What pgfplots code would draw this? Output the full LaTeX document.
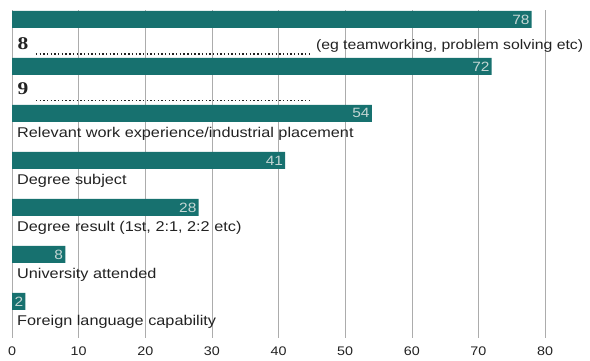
\documentclass[border=0pt]{standalone}
\usepackage{pgfplots}
\pgfplotsset{compat=1.18}
\usepackage{fontspec}
\setmainfont{Liberation Sans}[FakeStretch=1.15]
\newfontfamily\serifb{Liberation Serif}[FakeStretch=1.2]
\definecolor{barc}{HTML}{17716F}
\definecolor{valc}{HTML}{C4D6D4}
\definecolor{txtc}{HTML}{222222}
\begin{document}
\begin{tikzpicture}[x=1bp,y=1bp]
\useasboundingbox (0,0) rectangle (590,-360);
\begin{axis}[
 at={(12bp,-10bp)}, anchor=north west,
 scale only axis, width=533bp, height=328bp,
 xmin=0, xmax=80, ymin=-0.2, ymax=6.78, y dir=reverse,
 xtick={0,10,...,80}, ytick=\empty,
 xmajorgrids, grid style={gray!65, line width=0.5pt},
 axis line style={draw=none}, major tick length=0pt,
 tick label style={font=\fontsize{12.5}{12.5}\selectfont, text=txtc},
 /pgf/number format/assume math mode=true,
 xticklabel style={yshift=-5bp},
 xbar, bar width=17bp,
 nodes near coords,
 every node near coord/.append style={anchor=east, text=valc, font=\fontsize{13.5}{13.5}\selectfont, inner sep=2bp},
 clip=false,
]
\addplot[fill=barc, draw=none] coordinates {(78,0) (72,1) (54,2) (41,3) (28,4) (8,5) (2,6)};
\begin{scope}[every node/.style={anchor=base west, font=\fontsize{14.2}{14.2}\selectfont, text=txtc, inner sep=0pt}]
\node[xshift=5bp] at (axis cs:0,2.51) {Relevant work experience/industrial placement};
\node[xshift=5bp] at (axis cs:0,3.51) {Degree subject};
\node[xshift=5bp] at (axis cs:0,4.51) {Degree result (1st, 2:1, 2:2 etc)};
\node[xshift=5bp] at (axis cs:0,5.51) {University attended};
\node[xshift=5bp] at (axis cs:0,6.51) {Foreign language capability};
\node[font=\fontsize{13.8}{13.8}\selectfont] at (axis cs:45.6,0.65) {(eg teamworking, problem solving etc)};
\node[font=\serifb\bfseries\fontsize{18}{18}\selectfont] at (axis cs:0.8,0.63) {8};
\node[font=\serifb\bfseries\fontsize{18}{18}\selectfont] at (axis cs:0.8,1.606) {9};
\end{scope}
\draw[txtc, line width=1.5pt, dash pattern=on 1.4pt off 2.3pt] (axis cs:3.6,0.74) -- (axis cs:45.0,0.74);
\draw[txtc, line width=1.5pt, dash pattern=on 1.4pt off 2.3pt] (axis cs:3.6,1.73) -- (axis cs:45.0,1.73);
\end{axis}
\end{tikzpicture}
\end{document}
